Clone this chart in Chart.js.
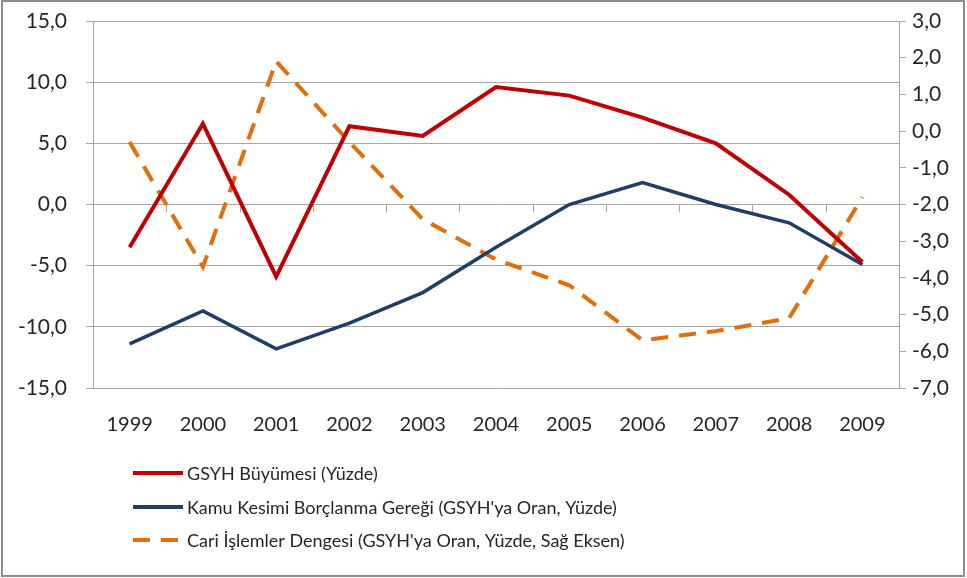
<!DOCTYPE html>
<html>
<head>
<meta charset="utf-8">
<script src="https://cdn.jsdelivr.net/npm/chart.js@4.4.1/dist/chart.umd.min.js"></script>
<style>
  html, body { margin: 0; padding: 0; background: #fff; }
  #wrap { width: 967px; height: 578px; position: relative; }
</style>
</head>
<body>
<div id="wrap"><canvas id="myChart" width="967" height="578"></canvas></div>
<script>
const years = ['1999', '2000', '2001', '2002', '2003', '2004', '2005', '2006', '2007', '2008', '2009'];
const gdpGrowth = [-3.5, 6.6, -5.9, 6.4, 5.6, 9.6, 8.9, 7.1, 5.0, 0.8, -4.7];
const publicBorrowing = [-11.4, -8.7, -11.8, -9.7, -7.2, -3.5, 0.0, 1.8, 0.0, -1.5, -4.9];
const currentAccount = [-0.3, -3.7, 1.9, -0.3, -2.4, -3.5, -4.2, -5.7, -5.45, -5.1, -1.8];

const labelGdp = 'GSYH Büyümesi (Yüzde)';
const labelBorrowing = "Kamu Kesimi Borçlanma Gereği (GSYH'ya Oran, Yüzde)";
const labelCurrent = "Cari İşlemler Dengesi (GSYH'ya Oran, Yüzde, Sağ Eksen)";

const FONT = 'Lato, "Liberation Sans", sans-serif';
const TEXT = '#262626';
const GRID = '#a6a6a6';

const fmt = v => v.toFixed(1).replace('.', ',');

// tick marks on the zero line + legend + outer frame
const extras = {
    id: 'extras',
    beforeDatasetsDraw(chart) {
        const ctx = chart.ctx;
        const area = chart.chartArea;
        const y0 = chart.scales.y.getPixelForValue(0);
        const step = (area.right - area.left) / years.length;
        ctx.save();
        ctx.strokeStyle = GRID;
        ctx.lineWidth = 1;
        for (let i = 1; i < years.length; i++) {
            const x = Math.round(area.left + i * step) + 0.5;
            ctx.beginPath();
            ctx.moveTo(x, y0);
            ctx.lineTo(x, y0 + 8);
            ctx.stroke();
        }
        ctx.restore();
    },
    afterDraw(chart) {
        const ctx = chart.ctx;
        ctx.save();
        const rows = [473, 507, 540];
        chart.data.datasets.forEach((ds, i) => {
            const y = rows[i];
            ctx.strokeStyle = ds.borderColor;
            ctx.lineWidth = 4;
            ctx.setLineDash(ds.borderDash || []);
            ctx.beginPath();
            ctx.moveTo(133, y);
            ctx.lineTo(183, y);
            ctx.stroke();
            ctx.setLineDash([]);
            ctx.fillStyle = TEXT;
            ctx.font = '18px ' + FONT;
            ctx.textBaseline = 'middle';
            ctx.fillText(ds.label, 187, y + 1);
        });
        ctx.strokeStyle = '#8c8c8c';
        ctx.lineWidth = 2;
        ctx.strokeRect(2, 1, 962, 575);
        ctx.restore();
    }
};

// keep tick padding from pushing the plot area down
function fixY(width) {
    return function (scale) {
        scale.width = width;
        scale.paddingTop = 0;
        scale.paddingBottom = 0;
    };
}

const ctx = document.getElementById('myChart').getContext('2d');
const chart = new Chart(ctx, {
    type: 'line',
    data: {
        labels: years,
        datasets: [{
            label: labelGdp,
            data: gdpGrowth,
            borderColor: '#c00000',
            borderWidth: 4,
            yAxisID: 'y'
        }, {
            label: labelBorrowing,
            data: publicBorrowing,
            borderColor: '#1f3d66',
            borderWidth: 3.5,
            yAxisID: 'y'
        }, {
            label: labelCurrent,
            data: currentAccount,
            borderColor: '#e46c0a',
            borderWidth: 4,
            borderDash: [17, 11],
            yAxisID: 'y1'
        }]
    },
    options: {
        responsive: false,
        animation: false,
        elements: { point: { radius: 0 }, line: { tension: 0 } },
        layout: { padding: { top: 21, left: 0, right: 0, bottom: 0 } },
        plugins: {
            legend: { display: false },
            tooltip: { enabled: false }
        },
        scales: {
            x: {
                offset: true,
                grid: { display: false },
                border: { display: false },
                ticks: { color: TEXT, font: { family: FONT, size: 20 }, padding: 17, maxRotation: 0 },
                afterFit(scale) { scale.height = 190; }
            },
            y: {
                position: 'left',
                min: -15,
                max: 15,
                ticks: { stepSize: 5, color: TEXT, font: { family: FONT, size: 21 }, padding: 19, callback: fmt },
                grid: { color: GRID, tickLength: 7 },
                border: { color: GRID },
                afterFit: fixY(93)
            },
            y1: {
                position: 'right',
                min: -7,
                max: 3,
                ticks: { stepSize: 1, color: TEXT, font: { family: FONT, size: 21 }, padding: 6, callback: fmt },
                grid: { drawOnChartArea: false, color: GRID, tickLength: 7 },
                border: { color: GRID },
                afterFit: fixY(68)
            }
        }
    },
    plugins: [extras]
});
</script>
</body>
</html>
